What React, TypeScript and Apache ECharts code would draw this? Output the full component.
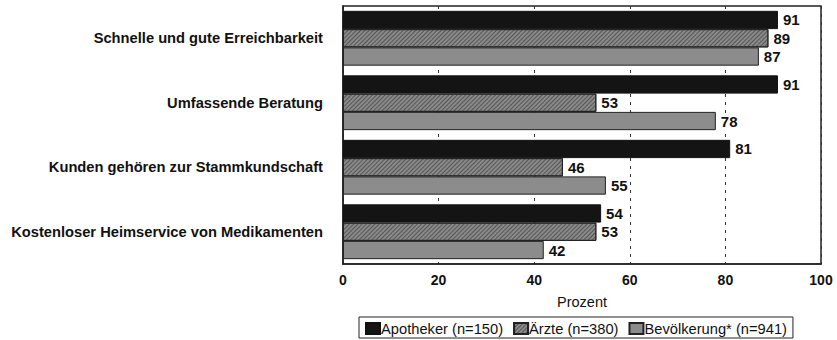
import React, { useEffect, useRef } from "react";
import * as echarts from "echarts";

const categories = [
  "Schnelle und gute Erreichbarkeit",
  "Umfassende Beratung",
  "Kunden gehören zur Stammkundschaft",
  "Kostenloser Heimservice von Medikamenten",
];
const seriesNames = ["Apotheker (n=150)", "Ärzte (n=380)", "Bevölkerung* (n=941)"];
const apotheker = [91, 91, 81, 54];
const aerzte = [89, 53, 46, 53];
const bevoelkerung = [87, 78, 55, 42];
const xTicks = { min: 0, max: 100, interval: 20 };

export default function App() {
  const ref = useRef<HTMLDivElement>(null);
  useEffect(() => {
    document.body.style.margin = "0";
    if (!ref.current) return;
    const chart = echarts.init(ref.current, undefined, { renderer: "svg" });
    const font = "Liberation Sans, Arial, sans-serif";
    const label = {
      show: true,
      position: "right" as const,
      distance: 3,
      color: "#111",
      fontFamily: font,
      fontWeight: "bold" as const,
      fontSize: 15,
      backgroundColor: "#fff",
      padding: [1, 2, 0, 2],
    };
    const common = {
      type: "bar" as const,
      barCategoryGap: "15%",
      barGap: "0%",
      label,
    };
    chart.setOption({
      animation: false,
      grid: {
        left: 343,
        right: 16,
        top: 6,
        bottom: 76,
        show: true,
        borderColor: "#222",
        borderWidth: 1.5,
        backgroundColor: "transparent",
      },
      legend: {
        bottom: 2,
        left: 359,
        data: seriesNames,
        borderColor: "#222",
        borderWidth: 1,
        padding: [4, 6, 2, 6],
        itemWidth: 14,
        itemHeight: 11,
        itemGap: 10,
        icon: "rect",
        textStyle: { fontFamily: font, fontSize: 14.7, color: "#111", padding: [0, 0, 0, -4] },
      },
      xAxis: {
        type: "value",
        min: xTicks.min,
        max: xTicks.max,
        interval: xTicks.interval,
        name: "Prozent",
        nameLocation: "middle",
        nameGap: 30,
        nameTextStyle: { fontFamily: font, fontSize: 14.5, color: "#111" },
        axisLine: { show: true, lineStyle: { color: "#222", width: 1.5 } },
        axisTick: { show: false },
        axisLabel: { fontFamily: font, fontSize: 14, fontWeight: "bold", color: "#111", margin: 9 },
        splitLine: { show: true, lineStyle: { color: "#333", type: [3, 5], width: 1 } },
      },
      yAxis: {
        type: "category",
        inverse: true,
        data: categories,
        axisLine: { show: true, lineStyle: { color: "#222", width: 1.5 } },
        axisTick: { show: false },
        axisLabel: { fontFamily: font, fontSize: 14.7, fontWeight: "bold", color: "#111", margin: 20 },
      },
      series: [
        {
          ...common,
          name: seriesNames[0],
          data: apotheker,
          itemStyle: { color: "#141414", borderColor: "#111", borderWidth: 1 },
        },
        {
          ...common,
          name: seriesNames[1],
          data: aerzte,
          itemStyle: {
            color: "#8a8a8a",
            borderColor: "#222",
            borderWidth: 1,
            decal: {
              symbol: "rect",
              symbolSize: 1,
              dashArrayX: [1, 0],
              dashArrayY: [1, 1.2],
              rotation: -Math.PI / 4,
              color: "#555555",
            },
          },
        },
        {
          ...common,
          name: seriesNames[2],
          data: bevoelkerung,
          itemStyle: { color: "#8c8c8c", borderColor: "#222", borderWidth: 1 },
        },
      ],
    });
    return () => chart.dispose();
  }, []);
  return <div ref={ref} style={{ width: 837, height: 340 }} />;
}
